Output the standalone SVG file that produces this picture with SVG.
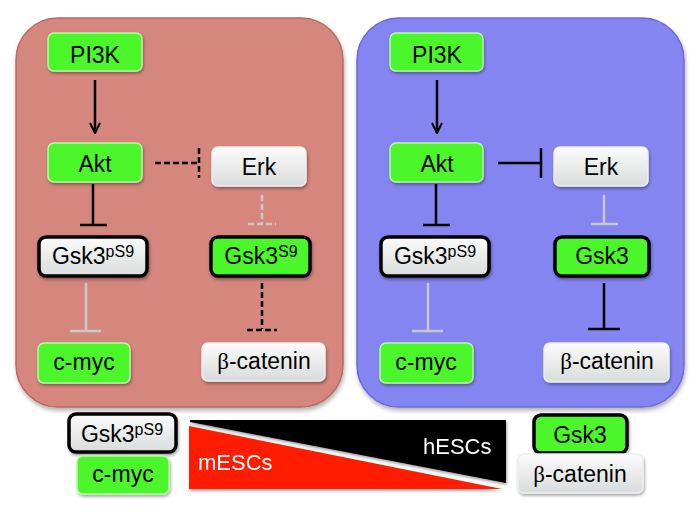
<svg xmlns="http://www.w3.org/2000/svg" width="700" height="513" viewBox="0 0 700 513">
<defs>
<linearGradient id="wg" x1="0" y1="0" x2="0" y2="1">
<stop offset="0" stop-color="#fbfbfb"/>
<stop offset="1" stop-color="#d9dcdc"/>
</linearGradient>
<filter id="sh" x="-10%" y="-10%" width="125%" height="130%">
<feDropShadow dx="1" dy="2" stdDeviation="1.5" flood-color="#000" flood-opacity="0.35"/>
</filter>
<filter id="psh" x="-5%" y="-5%" width="110%" height="110%">
<feDropShadow dx="1" dy="3" stdDeviation="2" flood-color="#000" flood-opacity="0.3"/>
</filter>
<marker id="arr" viewBox="0 0 12 12" refX="11" refY="6" markerWidth="12" markerHeight="12" markerUnits="userSpaceOnUse" orient="auto">
<polyline points="1,1 11,6 1,11" fill="none" stroke="#000" stroke-width="2"/>
</marker>
</defs>
<style>
.panelL{fill:#d5867d;stroke:#b86a62;stroke-width:1.5}
.panelR{fill:#8585f2;stroke:#6a6ad8;stroke-width:1.5}
.g{fill:#4cf72c;stroke:#b9f7a8;stroke-width:1.5}
.w{fill:url(#wg);stroke:#eeeeee;stroke-width:1.5}
.gt{fill:#4cf72c;stroke:#000;stroke-width:3.5}
.wt{fill:url(#wg);stroke:#000;stroke-width:3.5}
text{font-family:"Liberation Sans",Arial,sans-serif;font-size:23px;fill:#000;text-anchor:middle}
.beta{font-family:"Liberation Serif","Times New Roman",serif}
.lbl{fill:#fff;text-anchor:start;font-size:22px}
.blk{stroke:#000;stroke-width:2.5;fill:none}
.gry{stroke:#c9c9c9;stroke-width:2.5;fill:none}
.dash{stroke-dasharray:6,3}
</style>

<g id="panel-mESC"><rect class="panelL" x="16" y="18" width="327" height="389" rx="42" filter="url(#psh)"/></g>
<g id="panel-hESC"><rect class="panelR" x="357" y="18" width="327" height="389" rx="42" filter="url(#psh)"/></g>

<g id="connectors">
<line class="blk" x1="95" y1="80" x2="95" y2="133" marker-end="url(#arr)"/>
<line class="blk dash" x1="155" y1="163" x2="197" y2="163"/>
<line class="blk dash" x1="199" y1="148" x2="199" y2="178"/>
<line class="blk" x1="93" y1="184" x2="93" y2="225"/>
<line class="blk" x1="80" y1="225" x2="107" y2="225" stroke-width="3"/>
<line class="gry dash" x1="262" y1="195" x2="262" y2="223"/>
<line class="gry dash" x1="248" y1="224" x2="276" y2="224"/>
<line class="gry" x1="86" y1="283" x2="86" y2="331"/>
<line class="gry" x1="70" y1="331" x2="101" y2="331"/>
<line class="blk dash" x1="262" y1="283" x2="262" y2="329"/>
<line class="blk dash" x1="247" y1="330" x2="277" y2="330" stroke-width="3"/>
<line class="blk" x1="437" y1="80" x2="437" y2="133" marker-end="url(#arr)"/>
<line class="blk" x1="498" y1="163" x2="540" y2="163"/>
<line class="blk" x1="541" y1="148" x2="541" y2="178"/>
<line class="blk" x1="436" y1="184" x2="436" y2="225"/>
<line class="blk" x1="423" y1="225" x2="450" y2="225" stroke-width="3"/>
<line class="gry" x1="604" y1="195" x2="604" y2="224"/>
<line class="gry" x1="591" y1="224" x2="618" y2="224"/>
<line class="gry" x1="428" y1="283" x2="428" y2="331"/>
<line class="gry" x1="412" y1="331" x2="443" y2="331"/>
<line class="blk" x1="604" y1="283" x2="604" y2="329" stroke-width="3"/>
<line class="blk" x1="588" y1="329" x2="620" y2="329" stroke-width="3"/>
</g>

<g id="L-PI3K"><rect class="g" x="48" y="33" width="94" height="38" rx="6" filter="url(#sh)"/><text x="95" y="63">PI3K</text></g>
<g id="L-Akt"><rect class="g" x="48" y="143" width="94" height="39" rx="6" filter="url(#sh)"/><text x="95" y="172">Akt</text></g>
<g id="L-Erk"><rect class="w" x="212" y="147" width="94" height="39" rx="6" filter="url(#sh)"/><text x="259" y="175">Erk</text></g>
<g id="L-Gsk3pS9"><rect class="wt" x="39" y="237" width="108" height="39" rx="7" filter="url(#sh)"/><text x="93" y="264">Gsk3<tspan font-size="16" dy="-7">pS9</tspan></text></g>
<g id="L-Gsk3S9"><rect class="gt" x="211" y="237" width="99" height="39" rx="7" filter="url(#sh)"/><text x="261" y="264">Gsk3<tspan font-size="16" dy="-7">S9</tspan></text></g>
<g id="L-cmyc"><rect class="g" x="38" y="343" width="92" height="40" rx="6" filter="url(#sh)"/><text x="84" y="370">c-myc</text></g>
<g id="L-bcat"><rect class="w" x="202" y="343" width="123" height="38" rx="6" filter="url(#sh)"/><text x="264" y="369"><tspan class="beta">β</tspan>-catenin</text></g>

<g id="R-PI3K"><rect class="g" x="390" y="33" width="93" height="38" rx="6" filter="url(#sh)"/><text x="437" y="63">PI3K</text></g>
<g id="R-Akt"><rect class="g" x="390" y="143" width="93" height="39" rx="6" filter="url(#sh)"/><text x="437" y="172">Akt</text></g>
<g id="R-Erk"><rect class="w" x="554" y="147" width="94" height="39" rx="6" filter="url(#sh)"/><text x="601" y="175">Erk</text></g>
<g id="R-Gsk3pS9"><rect class="wt" x="381" y="237" width="108" height="39" rx="7" filter="url(#sh)"/><text x="435" y="264">Gsk3<tspan font-size="16" dy="-7">pS9</tspan></text></g>
<g id="R-Gsk3"><rect class="gt" x="555" y="237" width="94" height="39" rx="7" filter="url(#sh)"/><text x="602" y="264">Gsk3</text></g>
<g id="R-cmyc"><rect class="g" x="380" y="343" width="93" height="40" rx="6" filter="url(#sh)"/><text x="426" y="370">c-myc</text></g>
<g id="R-bcat"><rect class="w" x="544" y="343" width="125" height="39" rx="6" filter="url(#sh)"/><text x="607" y="369"><tspan class="beta">β</tspan>-catenin</text></g>

<g id="wedge" filter="url(#sh)">
<polygon points="190,420 506,420 506,483 190,422" fill="#000"/>
<polygon points="189,426 189,489 502,489" fill="#ff1a00"/>
<text class="lbl" x="198" y="470">mESCs</text>
<text class="lbl" x="423" y="454">hESCs</text>
</g>

<g id="leg-Gsk3pS9"><rect class="wt" x="69" y="414" width="107" height="38" rx="7" filter="url(#sh)"/><text x="122" y="442">Gsk3<tspan font-size="16" dy="-7">pS9</tspan></text></g>
<g id="leg-cmyc"><rect class="g" x="77" y="456" width="92" height="38" rx="6" filter="url(#sh)"/><text x="123" y="482">c-myc</text></g>
<g id="leg-Gsk3"><rect class="gt" x="534" y="415" width="93" height="38" rx="7" filter="url(#sh)"/><text x="580" y="443">Gsk3</text></g>
<g id="leg-bcat"><rect class="w" x="518" y="454" width="125" height="39" rx="6" filter="url(#sh)"/><text x="580" y="482"><tspan class="beta">β</tspan>-catenin</text></g>
</svg>
